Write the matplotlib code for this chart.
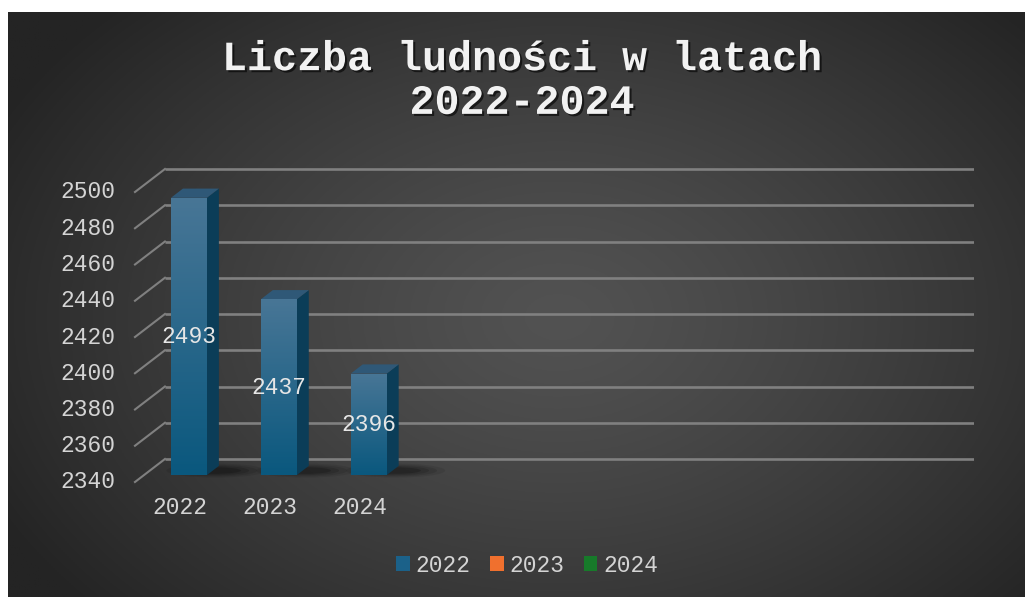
import numpy as np
import matplotlib
matplotlib.use("Agg")
import matplotlib.pyplot as plt
from matplotlib.patches import Polygon, Ellipse, Patch
import matplotlib.patheffects as pe

# ---- data ----
categories = ["2022", "2023", "2024"]
values = [2493, 2437, 2396]
legend_labels = ["2022", "2023", "2024"]
legend_colors = ["#1b6189", "#f0702e", "#177a2a"]
yticks = [2340, 2360, 2380, 2400, 2420, 2440, 2460, 2480, 2500]
title = "Liczba ludności w latach\n2022-2024"

W, H = 1025, 597
fig = plt.figure(figsize=(W / 100, H / 100), dpi=100)
fig.patch.set_facecolor("white")

# ---- background with radial gradient ----
bg = fig.add_axes([8 / W, 0, 1 - 8 / W, (H - 12) / H])
bg.set_axis_off()
ny, nx = 300, 500
yy, xx = np.mgrid[0:ny, 0:nx]
cx, cy = 0.54 * nx, 0.52 * ny
r = np.sqrt(((xx - cx) / (0.62 * nx)) ** 2 + ((yy - cy) / (0.75 * ny)) ** 2)
r = np.clip(r, 0, 1)
lum = 0x52 - (0x52 - 0x24) * r ** 1.3
img = np.dstack([lum, lum, lum]) / 255.0
bg.imshow(img, extent=[0, 1, 0, 1], aspect="auto", origin="upper")
bg.set_xlim(0, 1)
bg.set_ylim(0, 1)

# ---- main axes: back wall coordinates ----
px_left, px_right = 120, 974
y_lo, y_hi = 2320, 2510
ppu_y = 290 / 160.0          # pixels per value unit
ppu_x = 90.0                 # pixels per category
top_px = 169 - (y_hi - 2500) * ppu_y
bot_px = 459 + (2340 - y_lo) * ppu_y
ax = fig.add_axes([px_left / W, (H - bot_px) / H,
                   (px_right - px_left) / W, (bot_px - top_px) / H])
ax.set_axis_off()
ax.patch.set_alpha(0)

Dx, Dy = -30 / ppu_x, -23 / ppu_y   # full depth vector (data units)

grid_col = "#808080"
txt_col = "#d4d4d4"
mono = ["Liberation Mono", "DejaVu Sans Mono"]

for v in yticks:
    ax.plot([-0.5, 8.5], [v, v], color=grid_col, lw=1.9, solid_capstyle="butt")
    ax.plot([-0.5, -0.5 + Dx], [v, v + Dy], color=grid_col, lw=1.5)
    ax.text(-0.5 + Dx - 20 / ppu_x, v + Dy, str(v), ha="right", va="center",
            fontsize=16.5, color=txt_col, family=mono)

# ---- bars (pseudo 3D) ----
f1, f2 = 0.70, 0.30
sx1, sy1 = f1 * Dx, f1 * Dy
sx2, sy2 = f2 * Dx, f2 * Dy
bw = 0.4
base = 2340
grad = np.linspace(0, 1, 100).reshape(-1, 1)
c_top = np.array([72, 118, 150]) / 255.0
c_bot = np.array([10, 88, 126]) / 255.0
grad_img = c_top[None, None, :] * (1 - grad[..., None]) + c_bot[None, None, :] * grad[..., None]
grad_img = np.clip(grad_img, 0, 1)

for i, (cat, val) in enumerate(zip(categories, values)):
    xc = i + sx1
    # shadow
    for k, a in enumerate([0.08, 0.10, 0.13, 0.18]):
        e = Ellipse((xc + 0.3, base + sy1 + 2.5), width=1.1 - 0.18 * k,
                    height=(14 - 2.5 * k) / ppu_y, facecolor="black",
                    edgecolor="none", alpha=a, zorder=2)
        ax.add_patch(e)
    bars = ax.bar(xc, val - base, bottom=base + sy1, width=bw,
                  color=c_bot, edgecolor="none", zorder=3)
    rect = bars.patches[0]
    im = ax.imshow(grad_img, extent=[xc - bw / 2, xc + bw / 2, base + sy1, val + sy1],
                   aspect="auto", origin="upper", zorder=3.5)
    im.set_clip_path(rect)
    side = Polygon([(xc + bw / 2, base + sy1), (xc + bw / 2, val + sy1),
                    (i + sx2 + bw / 2, val + sy2), (i + sx2 + bw / 2, base + sy2)],
                   closed=True, facecolor="#0b3d58", edgecolor="none", zorder=3)
    ax.add_patch(side)
    top = Polygon([(xc - bw / 2, val + sy1), (xc + bw / 2, val + sy1),
                   (i + sx2 + bw / 2, val + sy2), (i + sx2 - bw / 2, val + sy2)],
                  closed=True, facecolor="#2f5877", edgecolor="none", zorder=3)
    ax.add_patch(top)
    ax.text(xc, (base + val) / 2 + sy1, str(val), ha="center", va="center",
            fontsize=16.5, color="#e6e6e6", family=mono, zorder=5)
    ax.text(i + Dx, base + Dy - 26 / ppu_y, cat, ha="center", va="center",
            fontsize=16.5, color=txt_col, family=mono)

ax.set_xlim(-1.0, 8.5)
ax.set_ylim(y_lo, y_hi)

# ---- title ----
fig.text(522 / W, 1 - 81 / H, title, ha="center", va="center",
         fontsize=30, fontweight="bold", color="#f2f2f2", family=mono,
         linespacing=1.12,
         path_effects=[pe.withSimplePatchShadow(offset=(1.5, -1.5), alpha=0.6,
                                                shadow_rgbFace="black")])

# ---- legend ----
handles = [Patch(facecolor=c, edgecolor="none") for c in legend_colors]
leg = fig.legend(handles, legend_labels, loc="center",
                 bbox_to_anchor=(527 / W, 1 - 565 / H), ncol=3, frameon=False,
                 prop={"family": mono, "size": 16.5}, handlelength=0.6,
                 handleheight=0.6, handletextpad=0.25, columnspacing=0.85,
                 borderpad=0)
for t in leg.get_texts():
    t.set_color(txt_col)

fig.savefig("out.png", dpi=100)
